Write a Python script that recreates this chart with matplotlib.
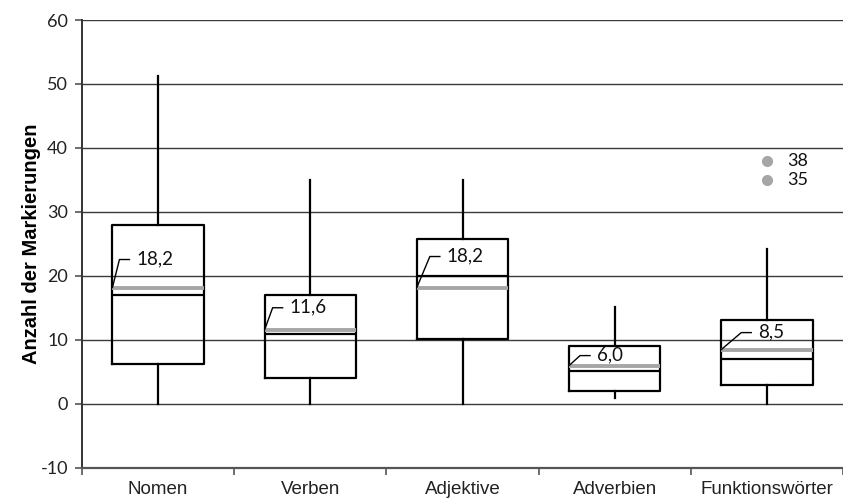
import matplotlib
matplotlib.use("Agg")
import matplotlib.pyplot as plt
import numpy as np

plt.rcParams["axes.unicode_minus"] = False

categories = ["Nomen", "Verben", "Adjektive", "Adverbien", "Funktionswörter"]
whisker_low = [0, 0, 0, 1, 0]
q1 = [6.3, 4.0, 10.1, 2.1, 3.0]
median = [17.1, 11.0, 20.0, 5.1, 7.1]
q3 = [28.0, 17.1, 25.8, 9.0, 13.1]
whisker_high = [51.2, 35.0, 35.0, 15.2, 24.2]
means = [18.2, 11.6, 18.2, 6.0, 8.5]
outliers = [[], [], [], [], [38, 35]]

# label leader geometry in pixels (style only)
lead_dy = [28, 22, 31, 10, 17]
lead_dx = [7, 8, 13, 11, 20]

fig = plt.figure(figsize=(8.43, 4.99), dpi=100)
ax = fig.add_axes([82/843, 31/499, 761/843, 448/499])

stats = []
for i in range(len(categories)):
    stats.append(dict(med=median[i], q1=q1[i], q3=q3[i], whislo=whisker_low[i],
                      whishi=whisker_high[i], mean=means[i], fliers=outliers[i],
                      label=categories[i]))

ax.bxp(stats, positions=range(1, 6), widths=0.6, showmeans=True, meanline=True,
       showcaps=False, showfliers=True, patch_artist=False,
       boxprops=dict(color="black", linewidth=1.6),
       whiskerprops=dict(color="black", linewidth=1.6),
       medianprops=dict(color="black", linewidth=1.6),
       meanprops=dict(color="#a6a6a6", linewidth=2.8, linestyle="-"),
       flierprops=dict(marker="o", markerfacecolor="#a6a6a6", markeredgecolor="#a6a6a6",
                       markersize=7))

ax.set_xlim(0.5, 5.5)
ax.set_ylim(-10, 60)
ax.set_yticks(np.arange(-10, 61, 10))
ax.yaxis.grid(True, color="#3a3a3a", linewidth=1.0)
ax.set_axisbelow(True)
ax.set_xticks(range(1, 6))
ax.set_xticklabels(categories, fontfamily="Liberation Sans", fontsize=13.5)
ax.tick_params(axis="x", length=0, pad=9)
ax.set_xticks(np.arange(0.5, 5.6, 1.0), minor=True)
ax.tick_params(axis="x", which="minor", length=5, width=1.2, color="#555555")
ax.tick_params(axis="y", length=5, width=1.2, color="#555555", labelsize=13, pad=5)
for lab in ax.get_yticklabels():
    lab.set_fontfamily("Lato")
    lab.set_color("#222222")
for lab in ax.get_xticklabels():
    lab.set_color("#222222")
for s in ["top", "right"]:
    ax.spines[s].set_visible(False)
ax.spines["left"].set_color("#333333")
ax.spines["left"].set_linewidth(1.4)
ax.spines["bottom"].set_color("#555555")
ax.spines["bottom"].set_linewidth(1.6)
ax.set_ylabel("Anzahl der Markierungen", fontfamily="Liberation Sans", fontweight="bold",
              fontsize=14.5, labelpad=0)

# pixel to data conversion
xpp = 5.0 / 761
ypp = 70.0 / 448
for i in range(5):
    left = i + 1 - 0.3
    m = means[i]
    x0, y0 = left, m
    x1, y1 = left + lead_dx[i] * xpp, m + lead_dy[i] * ypp
    x2 = x1 + 10 * xpp
    ax.plot([x0, x1, x2], [y0, y1, y1], color="black", linewidth=1.0, zorder=4)
    ax.text(x2 + 7 * xpp, y1 + 1 * ypp, f"{m:.1f}".replace(".", ","), fontfamily="Lato",
            fontsize=13.5, va="center", ha="left", color="#111111")

for i, outs in enumerate(outliers):
    for v in outs:
        ax.text(i + 1 + 20 * xpp, v, f"{v:g}", fontfamily="Lato", fontsize=13,
                va="center", ha="left", color="#111111")

fig.savefig("out.png", dpi=100)
